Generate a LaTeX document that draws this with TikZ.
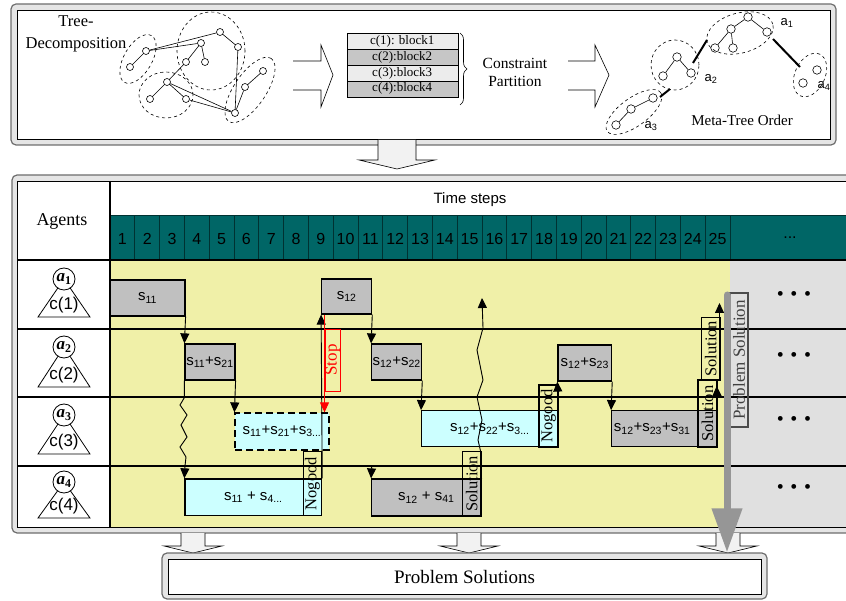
\documentclass[tikz,border=0pt]{standalone}
\usepackage{fontspec}
\setmainfont{Liberation Serif}
\setsansfont{Liberation Sans}
\usetikzlibrary{arrows.meta,positioning,calc,shapes.geometric,decorations.pathreplacing}

\definecolor{tealhead}{RGB}{0,102,102}
\definecolor{tealline}{RGB}{0,50,50}
\definecolor{cellyellow}{RGB}{240,240,168}
\definecolor{cellgray}{RGB}{224,224,224}
\definecolor{boxgray}{RGB}{192,192,192}
\definecolor{boxcyan}{RGB}{204,255,255}
\definecolor{framegray}{RGB}{110,110,110}
\definecolor{arrowgray}{RGB}{150,150,150}

\begin{document}
\begin{tikzpicture}[x=1pt, y=-1pt,
    panelout/.style={draw=framegray, fill=gray!20, rounded corners=5pt, line width=1.2pt},
    panelin/.style={draw=black, fill=white, line width=0.8pt},
    hollow/.style={draw=black, fill=gray!10, line width=0.6pt},
    vtx/.style={circle, draw, fill=white, inner sep=0pt, minimum size=7pt, line width=0.6pt},
    mvtx/.style={circle, draw, fill=white, inner sep=0pt, minimum size=8.5pt, line width=0.6pt},
    grp/.style={dashed, line width=0.6pt},
    blk/.style={draw, minimum width=111pt, minimum height=15.85pt, inner sep=0pt, font=\fontsize{13}{13}\selectfont},
    num/.style={font=\sffamily\fontsize{16}{16}\selectfont},
    task/.style={draw, line width=1.2pt, inner sep=0pt, font=\sffamily\fontsize{15}{15}\selectfont},
    tag/.style={draw, line width=1.2pt, rotate=90, inner sep=0pt, font=\fontsize{16.5}{16.5}\selectfont},
    msg/.style={-{Triangle[length=10pt,width=9pt]}, line width=0.9pt},
    rowline/.style={line width=1.2pt},
    moredots/.style={font=\fontsize{20}{20}\selectfont}]

    \clip (0,0) rectangle (846,601);

    % Top panel
    \draw[panelout] (11,4) rectangle (836,145);
    \draw[panelin] (17,10) rectangle (830,139);
    \node[font=\fontsize{16.5}{22}\selectfont, align=center] (tdlab) at (76,34) {Tree-\\Decomposition};

    % Tree decomposition sketch
    \foreach \n/\px/\py in {g1/130/67, g2/146/51, g3/220/32, g4/201/43, g5/238/47, g6/186/62, g7/205/62,
        g8/263/71, g9/167/82, g10/245/87, g11/150/99, g12/186/99, g13/235/113}
        \node[vtx] (\n) at (\px,\py) {};
    \foreach \a/\b in {g1/g2, g2/g3, g2/g4, g3/g5, g4/g6, g4/g7, g6/g9, g5/g13, g8/g10, g10/g13,
        g9/g11, g9/g12, g9/g13, g12/g13}
        \draw[line width=0.6pt] (\a) -- (\b);
    \draw[grp, rotate around={60:(138,59)}] (138,59) ellipse [x radius=27pt, y radius=14pt];
    \draw[grp] (211,51) ellipse [x radius=34pt, y radius=39pt];
    \draw[grp] (166,95) ellipse [x radius=27pt, y radius=23pt];
    \draw[grp, rotate around={56:(250,90)}] (250,90) ellipse [x radius=38pt, y radius=16pt];

    \draw[hollow, fill=white] (293,61) -- (321,61) -- (321,45) -- (333,75) -- (321,107) -- (321,90) -- (293,90);

    % Constraint partition
    \node[blk, fill=gray!15] (b1) at (402.2,41.2) {c(1): block1};
    \node[blk, fill=gray!45] (b2) at (402.2,57.1) {c(2):block2};
    \node[blk, fill=gray!15] (b3) at (402.2,72.9) {c(3):block3};
    \node[blk, fill=gray!45] (b4) at (402.2,88.8) {c(4):block4};
    \draw[decorate, decoration={brace, amplitude=7pt}, line width=0.6pt] (460,33) -- (460,105);
    \node[font=\fontsize{15.5}{18}\selectfont, align=center] (cplab) at (515,72) {Constraint\\Partition};

    \draw[hollow, fill=white] (568,61) -- (595,61) -- (595,45) -- (609,75) -- (595,107) -- (595,90) -- (568,90);

    % Meta-tree
    \foreach \n/\px/\py in {m1/748/17, m2/731/29, m3/767/32, m4/715/48, m5/733/48,
        m6/677/57, m7/663/76, m8/691/73, m9/653/98, m10/631/109, m11/616/125, m12/817/70, m13/803/83}
        \node[mvtx] (\n) at (\px,\py) {};
    \foreach \a/\b in {m1/m2, m1/m3, m2/m4, m2/m5, m6/m7, m6/m8, m9/m10, m10/m11}
        \draw[line width=0.6pt] (\a) -- (\b);
    \draw[grp, rotate around={15:(740,33)}] (740,33) ellipse [x radius=34pt, y radius=20pt];
    \draw[grp] (675,65) ellipse [x radius=24pt, y radius=25pt];
    \draw[grp, rotate around={36:(634,112)}] (634,112) ellipse [x radius=33pt, y radius=14pt];
    \draw[grp, rotate around={65:(810,75)}] (810,75) ellipse [x radius=23pt, y radius=15pt];
    \coordinate (l1a) at (693,63);  \coordinate (l1b) at (707,40);
    \coordinate (l2a) at (660,97);  \coordinate (l2b) at (670,89);
    \coordinate (l3a) at (773,39);  \coordinate (l3b) at (800,67);
    \draw[line width=2pt] (l1a) -- (l1b);
    \draw[line width=2pt] (l2a) -- (l2b);
    \draw[line width=2pt] (l3a) -- (l3b);
    \node[font=\sffamily\fontsize{13}{13}\selectfont] (na1) at (787,23) {a\textsubscript{1}};
    \node[font=\sffamily\fontsize{13}{13}\selectfont] (na2) at (711,79) {a\textsubscript{2}};
    \node[font=\sffamily\fontsize{13}{13}\selectfont] (na3) at (651,126) {a\textsubscript{3}};
    \node[font=\sffamily\fontsize{13}{13}\selectfont] (na4) at (824,86) {a\textsubscript{4}};
    \node[font=\fontsize{15}{15}\selectfont] (mtlab) at (742,120) {Meta-Tree Order};

    % Arrow to the schedule
    \draw[hollow] (378,140) -- (378,160) -- (359,160) -- (397,169) -- (435,160) -- (416,160) -- (416,140);

    % Middle panel
    \draw[panelout] (12,175) rectangle (880,533);
    \draw[panelin] (17,181) rectangle (880,527);
    \fill[tealhead] (110,216) rectangle (880,260);
    \fill[cellyellow] (110,260) rectangle (730,527);
    \fill[cellgray] (730,260) rectangle (880,527);
    \foreach \i in {1,...,25}
        \draw[tealline, line width=0.8pt] ({110+24.8*\i},216) -- ++(0,44);
    \draw[tealline, line width=1pt] (110,216) -- (880,216);
    \foreach \i in {1,...,25}
        \node[num] (ts\i) at ({110+24.8*(\i-0.5)},239) {\i};
    \node[num] (tsmore) at (790,238) {...};
    \node[font=\sffamily\fontsize{15}{15}\selectfont] (tslab) at (470,200) {Time steps};
    \node[font=\fontsize{18}{18}\selectfont] (aglab) at (62,222) {Agents};

    \foreach \y in {260,329,397,466}
        \draw[rowline] (17,\y) -- (880,\y);
    \draw[rowline] (110,181) -- (110,527);

    % Agents
    \foreach \i/\cy/\by in {1/279/317, 2/347/387, 3/415/454, 4/482/518} {
        \draw[line width=0.8pt] (38,\by) -- (64,\cy) -- (90,\by) -- cycle;
        \node[circle, draw, fill=white, line width=0.8pt, minimum size=22pt, inner sep=0pt,
            label={[font=\fontsize{17}{17}\selectfont]center:\textbf{\textit{a}}\textsubscript{\textbf{\i}}}] (ag\i) at (64,\cy) {};
        \node[font=\sffamily\fontsize{17}{17}\selectfont] (cc\i) at (64,{\by-12}) {c(\i)};
    }
    \foreach \i/\y in {1/296, 2/357, 3/421, 4/489}
        \node[moredots] (more\i) at (794,\y) {\textbullet\,\,\textbullet\,\,\textbullet};

    % Tasks
    \node[task, fill=boxgray, minimum width=75pt, minimum height=36pt] (s11) at (147.5,298) {s\textsubscript{11}};
    \node[task, fill=boxgray, minimum width=50pt, minimum height=35pt] (s12) at (346.7,296.5) {s\textsubscript{12}};
    \node[task, fill=boxgray, minimum width=50pt, minimum height=36pt] (s1121) at (210,362) {s\textsubscript{11}+s\textsubscript{21}};
    \node[task, fill=boxgray, minimum width=50pt, minimum height=36pt] (s1222) at (396.7,362) {s\textsubscript{12}+s\textsubscript{22}};
    \node[task, fill=boxgray, minimum width=53.7pt, minimum height=36pt] (s1223) at (584.8,363) {s\textsubscript{12}+s\textsubscript{23}};
    \node[task, fill=boxcyan, dash pattern=on 7pt off 4pt, minimum width=94pt, minimum height=37pt] (s11213) at (282,431.5) {s\textsubscript{11}+s\textsubscript{21}+s\textsubscript{3...}};
    \node[task, fill=boxcyan, minimum width=136.3pt, minimum height=36pt] (s12223) at (489.8,428.7) {s\textsubscript{12}+s\textsubscript{22}+s\textsubscript{3...}};
    \node[task, fill=boxgray, minimum width=105pt, minimum height=36pt] (s122331) at (664.2,428.7) {s\textsubscript{12}+s\textsubscript{23}+s\textsubscript{31}\hspace{24pt}\mbox{}};
    \node[task, fill=boxcyan, minimum width=136.7pt, minimum height=36.7pt] (s114) at (253.3,497.3) {s\textsubscript{11} + s\textsubscript{4...}};
    \node[task, fill=boxgray, minimum width=109.3pt, minimum height=37pt] (s1241) at (426.3,497.5) {s\textsubscript{12} + s\textsubscript{41}};

    % Tags
    \node[tag, minimum width=62pt, minimum height=19pt] (ng3) at (548.5,416) {Nogood};
    \node[tag, minimum width=64pt, minimum height=18.4pt] (ng4) at (312.5,483.7) {Nogood};
    \node[tag, minimum width=64.3pt, minimum height=18.7pt] (sol4) at (471.7,483.8) {Solution};
    \node[tag, minimum width=67pt, minimum height=19pt] (sol3) at (707.5,413.5) {Solution};
    \node[tag, minimum width=62.3pt, minimum height=18.3pt] (sol2) at (710.8,348.8) {Solution};
    \node[tag, draw=red, text=red, minimum width=62pt, minimum height=15.7pt, line width=0.9pt, font=\fontsize{17}{17}\selectfont] (stop) at (332.8,360) {Stop};

    % Messages
    \coordinate (r4a) at (371.7,466);
    \coordinate (t3) at (716.7,386);
    \coordinate (t2) at (719.5,303);
    \draw[msg] (s11.south east) -- (s1121.north west);
    \draw[msg] (s1121.south west) -- ++(0,17) -- (180,405) -- (187,415) -- (181,425) -- (187,437)
        -- (180,447) -- (186,457) -- (185,466) -- (s114.north west);
    \draw[msg] (s1121.south east) -- (s11213.north west);
    \draw[msg] (s114.north east) -- (s12.south west);
    \draw[msg, red] (s12.south -| stop.north) -- (s11213.north -| stop.north);
    \draw[msg] (s12.south east) -- (s1222.north west);
    \draw[msg] (s1222.south east) -- (s12223.north west);
    \draw[msg] (r4a) -- (s1241.north west);
    \draw[msg] (s1241.north east) -- (481,453) -- (478,440) -- (482,420) -- (477,397) -- (483,380)
        -- (477,350) -- (483,328) -- (482,298);
    \draw[msg] (s12223.north east) -- (s1223.south west);
    \draw[msg] (s1223.south east) -- (s122331.north west);
    \draw[msg] (s122331.north east) -- (t3);
    \draw[msg] (t2 |- sol2.south west) -- (t2);

    % Solutions out
    \node[tag, draw=black!70, text=black!75, minimum width=134pt, minimum height=18pt, font=\fontsize{17}{17}\selectfont] (psbox) at (739,360) {Problem Solution};

    \foreach \cx in {193,469,728}
        \draw[hollow, shift={(\cx,533)}] (-12,0) -- (-12,13) -- (-29,13) -- (0,20) -- (29,13) -- (12,13) -- (12,0);

    % Bottom panel
    \node[panelout, minimum width=605pt, minimum height=46pt] (pout) at (464.5,576) {};
    \node[panelin, minimum width=593pt, minimum height=35pt, font=\fontsize{19}{19}\selectfont] (psol) at (464.5,576.7) {Problem Solutions};

    \coordinate (gtop) at (727,295);
    \draw[arrowgray, line width=7pt, line cap=round, -{Triangle[length=44pt,width=29pt]}] (gtop) -- (gtop |- pout.north);
\end{tikzpicture}
\end{document}
